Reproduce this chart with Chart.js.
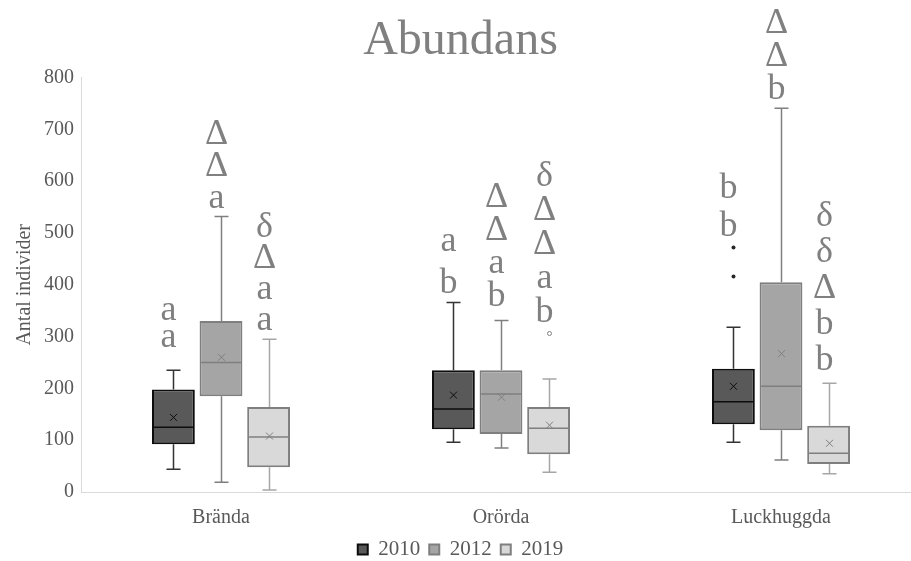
<!DOCTYPE html>
<html>
<head>
<meta charset="utf-8">
<title>Abundans</title>
<script src="https://cdn.jsdelivr.net/npm/chart.js@4.4.1/dist/chart.umd.min.js"></script>
<style>
    html, body { margin: 0; padding: 0; background: #ffffff; overflow: hidden; }
</style>
</head>
<body>
<canvas id="abundansChart" width="921" height="561"></canvas>
<script>
// ===================================
// Lådagram: Abundans per behandling och år
// ===================================

const categories = ['Brända', 'Orörda', 'Luckhuggda'];
const years = ['2010', '2012', '2019'];

// 2010
const min2010 = [44, 96, 96];
const q1_2010 = [92, 121, 131];
const median2010 = [125, 160, 174];
const q3_2010 = [198, 235, 238];
const max2010 = [235, 366, 318];
const mean2010 = [144, 187, 204];
const outliers2010 = [[], [], [416, 472]];

// 2012
const min2012 = [19, 85, 62];
const q1_2012 = [185, 112, 119];
const median2012 = [250, 189, 204];
const q3_2012 = [330, 235, 405];
const max2012 = [532, 331, 741];
const mean2012 = [260, 183, 267];
const outliers2012 = [[], [], []];

// 2019
const min2019 = [4, 38, 35];
const q1_2019 = [48, 73, 54];
const median2019 = [106, 123, 75];
const q3_2019 = [164, 164, 128];
const max2019 = [295, 218, 210];
const mean2019 = [108, 129, 94];
const outliers2019 = [[], [306], []];

// Signifikansbokstäver (uppifrån och ned) och värdet där nedersta raden står
const letters2010 = [['a', 'a'], ['a', 'b'], ['b', 'b']];
const letters2012 = [['Δ', 'Δ', 'a'], ['Δ', 'Δ', 'a', 'b'], ['Δ', 'Δ', 'b']];
const letters2019 = [['δ', 'Δ', 'a', 'a'], ['δ', 'Δ', 'Δ', 'a', 'b'], ['δ', 'δ', 'Δ', 'b', 'b']];
const letterBase2010 = [279, 385, 495];
const letterBase2012 = [549, 360, 759];
const letterBase2019 = [312, 328, 235];

const yTicks = [0, 100, 200, 300, 400, 500, 600, 700, 800];

// Stil per år
const styles = [
    { fill: '#595959', border: '#0d0d0d', whisker: '#333333', mean: '#0d0d0d', lineHeights: [27, 42, 38] },
    { fill: '#a5a5a5', border: '#7f7f7f', whisker: '#7f7f7f', mean: '#7f7f7f', lineHeights: [32, 33, 33] },
    { fill: '#d9d9d9', border: '#7f7f7f', whisker: '#a6a6a6', mean: '#7f7f7f', lineHeights: [31, 34, 36] }
];

const boxData = [
    { min: min2010, q1: q1_2010, med: median2010, q3: q3_2010, max: max2010, mean: mean2010, out: outliers2010, letters: letters2010, base: letterBase2010 },
    { min: min2012, q1: q1_2012, med: median2012, q3: q3_2012, max: max2012, mean: mean2012, out: outliers2012, letters: letters2012, base: letterBase2012 },
    { min: min2019, q1: q1_2019, med: median2019, q3: q3_2019, max: max2019, mean: mean2019, out: outliers2019, letters: letters2019, base: letterBase2019 }
];

const serif = '"Liberation Serif", "Times New Roman", serif';

// Morrhår, median, medelvärde, avvikare och bokstäver
const boxPlotPlugin = {
    id: 'boxPlot',
    afterDatasetsDraw(chart) {
        const ctx = chart.ctx;
        const y = chart.scales.y;
        boxData.forEach((d, i) => {
            const st = styles[i];
            const meta = chart.getDatasetMeta(i);
            meta.data.forEach((bar, j) => {
                const x = Math.round(bar.x) + 0.5;
                const w = bar.width;
                const cap = 7;
                const yMax = y.getPixelForValue(d.max[j]);
                const yMin = y.getPixelForValue(d.min[j]);
                ctx.save();
                ctx.strokeStyle = st.whisker;
                ctx.lineWidth = 1.5;
                ctx.beginPath();
                ctx.moveTo(x, y.getPixelForValue(d.q3[j]));
                ctx.lineTo(x, yMax);
                ctx.moveTo(x - cap, yMax);
                ctx.lineTo(x + cap, yMax);
                ctx.moveTo(x, y.getPixelForValue(d.q1[j]));
                ctx.lineTo(x, yMin);
                ctx.moveTo(x - cap, yMin);
                ctx.lineTo(x + cap, yMin);
                ctx.stroke();

                // Median
                ctx.strokeStyle = st.border;
                ctx.lineWidth = 1.5;
                ctx.beginPath();
                const my = y.getPixelForValue(d.med[j]);
                ctx.moveTo(x - w / 2 + 1, my);
                ctx.lineTo(x + w / 2 - 1, my);
                ctx.stroke();

                // Medelvärde (x)
                const mx = y.getPixelForValue(d.mean[j]);
                ctx.strokeStyle = st.mean;
                ctx.lineWidth = 1;
                ctx.beginPath();
                ctx.moveTo(x - 3.5, mx - 3.5);
                ctx.lineTo(x + 3.5, mx + 3.5);
                ctx.moveTo(x + 3.5, mx - 3.5);
                ctx.lineTo(x - 3.5, mx + 3.5);
                ctx.stroke();

                // Avvikare
                d.out[j].forEach(v => {
                    ctx.beginPath();
                    ctx.arc(x, y.getPixelForValue(v), 2, 0, Math.PI * 2);
                    if (i === 0) {
                        ctx.fillStyle = '#262626';
                        ctx.fill();
                    } else {
                        ctx.strokeStyle = st.border;
                        ctx.lineWidth = 1;
                        ctx.stroke();
                    }
                });

                // Bokstäver
                ctx.fillStyle = '#808080';
                ctx.font = '36px ' + serif;
                ctx.textAlign = 'center';
                ctx.textBaseline = 'alphabetic';
                const list = d.letters[j];
                const lh = st.lineHeights[j];
                const by = y.getPixelForValue(d.base[j]);
                list.forEach((txt, k) => {
                    ctx.fillText(txt, x - 5, by - (list.length - 1 - k) * lh);
                });
                ctx.restore();
            });
        });
    }
};

const datasets = boxData.map((d, i) => ({
    label: years[i],
    data: d.q1.map((v, j) => [v, d.q3[j]]),
    backgroundColor: styles[i].fill,
    borderColor: styles[i].border,
    borderWidth: 2,
    borderSkipped: false,
    categoryPercentage: 0.51,
    barPercentage: 0.9
}));

new Chart(document.getElementById('abundansChart'), {
    type: 'bar',
    data: { labels: categories, datasets: datasets },
    plugins: [boxPlotPlugin],
    options: {
        responsive: false,
        animation: false,
        layout: { padding: { left: 0, right: 0, top: 0, bottom: 0 } },
        plugins: {
            title: {
                display: true,
                text: 'Abundans',
                color: '#808080',
                font: { family: serif, size: 48, weight: 'normal' },
                padding: { top: 13, bottom: 7 }
            },
            legend: {
                position: 'bottom',
                maxHeight: 31,
                labels: {
                    color: '#595959',
                    font: { family: serif, size: 21 },
                    boxWidth: 10,
                    boxHeight: 10,
                    padding: 9
                }
            },
            tooltip: { enabled: false }
        },
        scales: {
            x: {
                afterFit: axis => { axis.height = 38; },
                grid: { display: false, drawTicks: false },
                border: { display: true, color: '#d9d9d9', width: 1 },
                ticks: {
                    color: '#595959',
                    font: { family: serif, size: 20 },
                    padding: 14
                }
            },
            y: {
                min: 0,
                max: 800,
                afterBuildTicks: axis => { axis.ticks = yTicks.map(v => ({ value: v })); },
                grid: { display: false, drawTicks: false },
                border: { display: true, color: '#d9d9d9', width: 1 },
                ticks: {
                    color: '#595959',
                    font: { family: serif, size: 20 },
                    padding: 7
                },
                title: {
                    display: true,
                    text: 'Antal individer',
                    color: '#595959',
                    font: { family: serif, size: 20 },
                    padding: { top: 13, bottom: 0 }
                }
            }
        }
    }
});
</script>
</body>
</html>
